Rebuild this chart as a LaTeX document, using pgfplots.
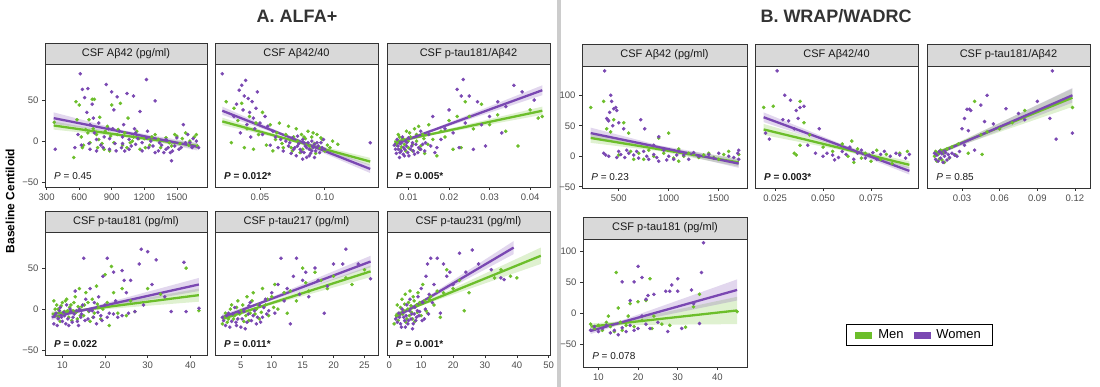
\documentclass[border=0pt]{standalone}
\usepackage{fontspec}
\setmainfont{Liberation Sans}
\usepackage{pgfplots}
\pgfplotsset{compat=1.18}
\definecolor{men}{HTML}{6CBE2B}
\definecolor{women}{HTML}{7A48B2}
\definecolor{stripgray}{HTML}{D9D9D9}
\definecolor{framegray}{HTML}{333333}
\definecolor{ticktext}{HTML}{4D4D4D}
\definecolor{sepgray}{HTML}{CCCCCC}
\tikzset{pval/.style={anchor=base west, font=\fontsize{10}{12}\selectfont, text=black!90}}
\pgfplotsset{
 panel/.style={scale only axis, axis line style={draw=framegray, line width=0.75pt},
   tick align=outside, xtick pos=bottom, ytick pos=left, major tick length=3pt,
   tick style={draw=framegray, line width=0.6pt},
   ticklabel style={font=\fontsize{9.5}{11}\selectfont, text=ticktext},
   scaled x ticks=false, scaled y ticks=false},
 pts/.style={only marks, mark=*, mark size=1.6pt},
 band/.style={draw=none, fill opacity=0.22},
 fit/.style={line width=2.3pt},
 yA/.style={ymin=-56, ymax=94, ytick={-50,0,50}, yticklabels={−50,0,50}},
 yAin/.style={ymin=-56, ymax=94, ytick=\empty},
 yB/.style={ymin=-52, ymax=148, ytick={-50,0,50,100}, yticklabels={−50,0,50,100}},
 yBin/.style={ymin=-52, ymax=148, ytick=\empty},
}
\begin{document}
\begin{tikzpicture}
\path[use as bounding box] (0pt,0pt) rectangle (1100pt,-387pt);
\fill[sepgray] (557pt,0pt) rectangle (561pt,-387pt);

% ---------------- A1 ----------------
\begin{axis}[panel, at={(45pt,-187pt)}, anchor=south west, width=162pt, height=123pt,
  xmin=285, xmax=1778, yA, xtick={300,600,900,1200,1500}, xticklabels={300,600,900,1200,1500}]
\addplot[pts, men] coordinates {(370,23)(550,-20)(570,48)(580,26)(600,44)(620,5)(640,-5)(660,14)(690,26)(700,-2)(720,51)(740,51)(760,8)(770,-8)(790,29)(810,-3)(840,12)(860,18)(880,-12)(900,44)(920,-2)(950,8)(980,46)(1000,-5)(1020,10)(1050,28)(1070,-2)(1100,5)(1130,12)(1160,-10)(1200,3)(1250,-5)(1300,8)(1350,-8)(1400,4)(1450,-6)(1500,6)(1530,-3)(1580,10)(1620,0)(1660,5)(1690,-6)
 (630,-8)(680,10)(730,15)(780,2)(830,-10)(890,6)(960,14)(1040,-8)(1090,0)(1150,3)(1210,-8)(1270,5)(1330,2)(1430,-2)(1480,8)(1550,3)(1610,-5)(1680,8)};
\addplot[pts, women] coordinates {(380,-10)(560,-8)(590,8)(610,82)(630,63)(650,53)(670,35)(680,64)(700,20)(720,45)(730,28)(740,10)(760,-12)(780,22)(800,-5)(830,5)(850,69)(870,15)(880,-10)(900,60)(920,38)(930,-3)(950,54)(970,12)(990,-8)(1000,5)(1020,-12)(1040,58)(1060,2)(1080,-6)(1100,55)(1120,10)(1140,3)(1160,36)(1180,-2)(1220,75)(1240,-8)(1260,0)(1300,49)(1300,-14)(1330,-12)(1360,-5)(1380,-14)(1400,2)(1420,-8)(1440,-14)(1450,-24)(1480,-6)(1500,4)(1520,-10)(1560,20)(1600,8)(1620,-2)(1650,3)(1680,0)(1700,-8)
 (620,-5)(700,-10)(760,2)(820,-8)(880,3)(940,-12)(1000,-3)(1060,-10)(1120,-4)(1180,-12)(1220,4)(1280,-6)(1340,-2)(1400,-10)(1460,-12)(1540,-8)(1580,-2)(1640,-8)(910,15)(1010,20)(1110,15)(1230,12)(690,-3)};
\addplot[band, fill=men] coordinates {(365,24)(1000,8.8)(1690,-2.5)(1690,-9.5)(1000,5.2)(365,14)};
\addplot[band, fill=women] coordinates {(365,35)(1000,13.2)(1690,-2.5)(1690,-11.5)(1000,9.2)(365,21)};
\addplot[fit, men] coordinates {(365,19)(1690,-6)};
\addplot[fit, women] coordinates {(365,28)(1690,-7)};
\node[pval] at (rel axis cs:0.035,0.06) {\textit{P} = 0.45};
\end{axis}

% ---------------- A2 ----------------
\begin{axis}[panel, at={(215pt,-187pt)}, anchor=south west, width=163pt, height=123pt,
  xmin=0.0154, xmax=0.141, yAin, xtick={0.05,0.10}, xticklabels={0.05,0.10}]
\addplot[pts, men] coordinates {(0.024,48)(0.028,-2)(0.030,40)(0.033,25)(0.036,46)(0.038,-8)(0.040,15)(0.042,30)(0.045,-10)(0.047,22)(0.049,8)(0.052,35)(0.055,-5)(0.058,20)(0.060,-12)(0.063,10)(0.065,22)(0.067,-3)(0.070,8)(0.072,18)(0.074,-8)(0.076,5)(0.078,15)(0.080,-2)(0.082,8)(0.083,-10)(0.085,3)(0.087,12)(0.088,-6)(0.090,5)(0.092,-3)(0.094,8)(0.096,-8)(0.098,2)(0.102,-5)(0.106,0)(0.110,-4)
 (0.075,-12)(0.079,0)(0.081,-14)(0.084,5)(0.086,-4)(0.089,-10)(0.091,10)(0.093,-15)(0.097,4)(0.100,-12)(0.104,-8)(0.068,-8)(0.062,2)};
\addplot[pts, women] coordinates {(0.021,82)(0.030,30)(0.032,45)(0.034,62)(0.035,10)(0.036,68)(0.037,38)(0.038,55)(0.039,74)(0.040,20)(0.041,52)(0.042,35)(0.043,5)(0.044,48)(0.045,28)(0.046,15)(0.047,40)(0.048,60)(0.050,22)(0.052,8)(0.054,30)(0.056,18)(0.058,-5)(0.060,12)(0.062,5)(0.064,-8)(0.066,2)(0.068,-12)(0.070,0)(0.072,-6)(0.074,-15)(0.075,4)(0.077,-8)(0.078,-18)(0.080,-3)(0.081,-10)(0.083,2)(0.084,-14)(0.085,-6)(0.086,-20)(0.087,-2)(0.088,-10)(0.089,-15)(0.090,0)(0.091,-8)(0.092,-4)(0.093,-12)(0.095,-6)(0.097,-2)(0.100,-10)(0.135,-2)
 (0.073,-2)(0.076,-10)(0.079,-6)(0.082,-13)(0.084,-2)(0.086,-8)(0.088,-18)(0.090,-12)(0.092,-20)(0.094,-2)(0.096,-14)(0.098,-8)(0.079,6)(0.083,-22)(0.099,2)};
\addplot[band, fill=men] coordinates {(0.021,28.5)(0.07,4.4)(0.135,-20.5)(0.135,-29.5)(0.07,1.4)(0.021,19.5)};
\addplot[band, fill=women] coordinates {(0.021,42)(0.07,8)(0.135,-29)(0.135,-39)(0.07,5)(0.021,32)};
\addplot[fit, men] coordinates {(0.021,24)(0.135,-25)};
\addplot[fit, women] coordinates {(0.021,37)(0.135,-34)};
\node[pval] at (rel axis cs:0.035,0.06) {\bfseries\textit{P} = 0.012*};
\end{axis}

% ---------------- A3 ----------------
\begin{axis}[panel, at={(387pt,-187pt)}, anchor=south west, width=163pt, height=123pt,
  xmin=0.0047, xmax=0.0449, yAin, xtick={0.01,0.02,0.03,0.04}, xticklabels={0.01,0.02,0.03,0.04}]
\addplot[pts, men] coordinates {(0.007,-5)(0.0075,8)(0.008,-10)(0.0085,3)(0.009,-4)(0.0095,12)(0.010,-8)(0.0105,5)(0.011,-12)(0.0115,15)(0.012,0)(0.0125,18)(0.013,-6)(0.0135,8)(0.014,-15)(0.015,20)(0.016,2)(0.017,-18)(0.018,12)(0.019,5)(0.020,25)(0.021,-10)(0.022,30)(0.023,-8)(0.024,48)(0.025,30)(0.026,15)(0.028,45)(0.030,20)(0.032,32)(0.034,12)(0.037,-6)(0.040,38)(0.042,28)(0.043,30)
 (0.0072,-2)(0.0078,5)(0.0083,-7)(0.0088,2)(0.0093,-12)(0.0099,0)(0.0103,10)(0.011,-4)(0.012,8)(0.0128,-10)(0.0138,3)(0.0148,-4)};
\addplot[pts, women] coordinates {(0.0065,-5)(0.007,-15)(0.0072,2)(0.0075,-10)(0.0078,-20)(0.008,-3)(0.0082,-12)(0.0085,5)(0.0088,-8)(0.009,-18)(0.0092,0)(0.0095,-6)(0.0098,-14)(0.010,4)(0.0105,-10)(0.011,-2)(0.0115,-16)(0.012,6)(0.0125,-8)(0.013,12)(0.0135,-4)(0.014,-12)(0.015,8)(0.016,30)(0.017,-8)(0.018,2)(0.019,15)(0.020,38)(0.021,10)(0.022,63)(0.0225,-8)(0.023,55)(0.0235,75)(0.024,22)(0.025,55)(0.026,-10)(0.027,48)(0.028,20)(0.029,-6)(0.030,30)(0.032,48)(0.033,10)(0.034,42)(0.036,68)(0.038,60)(0.041,50)
 (0.0068,-10)(0.0074,-6)(0.0079,-14)(0.0083,-2)(0.0087,-16)(0.0091,-10)(0.0096,-2)(0.0101,-18)(0.0108,-6)(0.0112,-12)(0.0118,-4)(0.0123,-14)(0.013,-10)(0.0142,-2)(0.0155,-6)(0.0165,-14)};
\addplot[band, fill=men] coordinates {(0.0065,1.5)(0.016,10.4)(0.043,42)(0.043,32)(0.016,7.4)(0.0065,-3.5)};
\addplot[band, fill=women] coordinates {(0.0065,-1.5)(0.016,14.7)(0.043,68)(0.043,56)(0.016,11.7)(0.0065,-6.5)};
\addplot[fit, men] coordinates {(0.0065,-1)(0.043,37)};
\addplot[fit, women] coordinates {(0.0065,-4)(0.043,62)};
\node[pval] at (rel axis cs:0.035,0.06) {\bfseries\textit{P} = 0.005*};
\end{axis}

% ---------------- A4 ----------------
\begin{axis}[panel, at={(45pt,-355pt)}, anchor=south west, width=162pt, height=123pt,
  xmin=5.93, xmax=43.9, yA, xtick={10,20,30,40}, xticklabels={10,20,30,40}]
\addplot[pts, men] coordinates {(8,10)(8.5,-8)(9,0)(9.5,-15)(10,8)(10.5,-3)(11,12)(11.5,-10)(12,5)(12.5,-2)(13,15)(13.5,-12)(14,25)(14.5,3)(15,-8)(15.5,20)(16,8)(16.5,-15)(17,12)(17.5,-5)(18,28)(18.5,2)(19,-12)(20,42)(20.5,8)(21,-20)(21.5,52)(22,20)(23,-5)(24,25)(25,-8)(26,10)(27,-3)(30,25)(33,18)(39,50)(42,-2)
 (8.3,0)(8.7,5)(9.2,-10)(9.7,4)(10.2,-5)(10.7,10)(11.2,-2)(11.7,2)(12.2,-14)(12.7,8)(13.2,-4)(13.7,3)(14.2,-8)(15.2,5)(16.2,-3)(17.2,-10)(18.2,6)(19.5,0)};
\addplot[pts, women] coordinates {(8,-18)(8.5,-5)(9,-12)(9.5,2)(10,-15)(10.5,-8)(11,5)(11.5,-20)(12,-3)(12.5,-10)(13,22)(13.5,-15)(14,0)(14.5,-6)(15,62)(15.5,12)(16,-12)(16.5,25)(17,-2)(17.5,8)(18,-18)(18.5,15)(19,-8)(19.5,40)(20,5)(20.5,62)(21,-5)(22,45)(22.5,10)(23,-10)(24,47)(24.5,35)(25,20)(25.5,-5)(26,35)(27,-3)(28,55)(28.5,73)(29,5)(30,70)(31,30)(32,60)(34,15)(35.5,-3)(38.5,57)(39,-3)(42,1)
 (8.2,-8)(8.8,-20)(9.3,-2)(9.8,-10)(10.3,-4)(10.8,-18)(11.3,-12)(11.8,0)(12.3,-16)(12.8,-6)(13.3,-2)(13.8,-20)(14.3,-10)(14.8,5)(15.3,-14)(16.3,-2)(17.3,-10)(18.3,-4)(19.3,-14)(20.5,-10)(22,-6)(24,-8)};
\addplot[band, fill=men] coordinates {(7.5,-3)(16,1.2)(42,25)(42,9)(16,-1.8)(7.5,-9)};
\addplot[band, fill=women] coordinates {(7.5,-6.5)(16,1.4)(42,38)(42,22)(16,-1.6)(7.5,-13.5)};
\addplot[fit, men] coordinates {(7.5,-6)(42,17)};
\addplot[fit, women] coordinates {(7.5,-10)(42,30)};
\node[pval] at (rel axis cs:0.035,0.06) {\bfseries\textit{P} = 0.022};
\end{axis}

% ---------------- A5 ----------------
\begin{axis}[panel, at={(215pt,-355pt)}, anchor=south west, width=163pt, height=123pt,
  xmin=0.81, xmax=27.2, yAin, xtick={5,10,15,20,25}, xticklabels={5,10,15,20,25}]
\addplot[pts, men] coordinates {(2,-18)(2.5,-5)(3,-12)(3.5,5)(4,-8)(4.5,10)(5,-2)(5.5,-15)(6,15)(6.5,-5)(7,20)(7.5,0)(8,-12)(8.5,25)(9,5)(9.5,-8)(10,15)(10.5,30)(11,0)(12,20)(12.5,-5)(13,22)(14,10)(15,50)(15.5,32)(16,22)(17,45)(18,35)(19,25)(20,40)(22,38)(23,30)(25,48)
 (2.3,-10)(2.8,-16)(3.3,0)(3.8,-12)(4.3,2)(4.8,-6)(5.3,5)(5.8,-8)(6.3,-14)(6.8,10)(7.3,-6)(7.8,5)(8.3,-4)(9.3,12)(10.3,2)};
\addplot[pts, women] coordinates {(2,-10)(2.5,-20)(3,-5)(3.5,-15)(4,2)(4.5,-12)(5,-22)(5.5,-3)(6,-16)(6.5,8)(7,-8)(7.5,-18)(8,5)(8.5,-10)(9,12)(9.5,-2)(10,20)(10.5,-5)(11,30)(11.5,62)(12,10)(12.5,25)(13,-18)(13.5,40)(14,62)(14.5,18)(15,35)(15.5,45)(16,15)(17,50)(17.5,35)(18.5,-5)(19,28)(20,55)(21.5,55)(22,73)(24,55)(26,37)
 (2.2,-14)(2.7,-8)(3.2,-22)(3.7,-6)(4.2,-16)(4.7,-4)(5.2,-12)(5.7,-24)(6.2,-6)(6.7,-14)(7.2,-2)(7.7,-10)(8.2,-16)(8.7,2)(9.2,-6)(6.3,4)(4.3,-20)};
\addplot[band, fill=men] coordinates {(2,-9)(8,4)(26,53)(26,39)(8,1)(2,-15)};
\addplot[band, fill=women] coordinates {(2,-6.5)(8,8.5)(26,65)(26,51)(8,5.5)(2,-13.5)};
\addplot[fit, men] coordinates {(2,-12)(26,46)};
\addplot[fit, women] coordinates {(2,-10)(26,58)};
\node[pval] at (rel axis cs:0.035,0.06) {\bfseries\textit{P} = 0.011*};
\end{axis}

% ---------------- A6 ----------------
\begin{axis}[panel, at={(387pt,-355pt)}, anchor=south west, width=163pt, height=123pt,
  xmin=-0.73, xmax=50.4, yAin, xtick={0,10,20,30,40,50}, xticklabels={0,10,20,30,40,50}]
\addplot[pts, men] coordinates {(1.5,-18)(2.5,5)(3,-8)(4,12)(4.5,-2)(5,18)(5.5,-12)(6,8)(6.5,22)(7,-4)(7.5,15)(8,-15)(8.5,5)(9,20)(10,-8)(10.5,30)(11,10)(12,-5)(13,15)(14,5)(15,22)(16,-10)(17,20)(18,48)(20,25)(22,35)(23.5,-2)(25,20)(33,38)(35,48)(38,40)(40,38)
 (2.2,-8)(2.8,-14)(3.5,2)(4.2,-6)(4.8,6)(5.2,-16)(5.8,0)(6.3,-8)(6.8,4)(7.3,-12)(7.8,10)(8.8,-4)(9.5,8)(11.5,-2)(12.5,12)};
\addplot[pts, women] coordinates {(2,-12)(3,-5)(3.5,-18)(4,0)(4.5,-10)(5,-22)(5.5,5)(6,-14)(6.5,12)(7,-6)(7.5,-18)(8,2)(8.5,-10)(9,15)(9.5,-3)(10,25)(10.5,8)(11,-12)(11.5,40)(12,55)(12.5,18)(13,62)(14,30)(15,62)(16,-5)(17,55)(18,40)(19,45)(20,30)(22,68)(24,45)(26,72)(28,55)(32,48)(35,38)(36,36)
 (2.5,-16)(3.2,-10)(3.8,-22)(4.3,-4)(4.8,-14)(5.3,-8)(5.8,-18)(6.3,-2)(6.8,-12)(7.3,-24)(7.8,-6)(8.3,-14)(8.8,-2)(9.3,-8)(10.3,-14)(11.3,0)(12.3,-6)(13.5,8)};
\addplot[band, fill=men] coordinates {(2,-4)(10,7.2)(47.5,75)(47.5,55)(10,4.2)(2,-10)};
\addplot[band, fill=women] coordinates {(2,-6.5)(9,7.6)(39,83)(39,67)(9,4.6)(2,-13.5)};
\addplot[fit, men] coordinates {(2,-7)(47.5,65)};
\addplot[fit, women] coordinates {(2,-10)(39,75)};
\node[pval] at (rel axis cs:0.035,0.06) {\bfseries\textit{P} = 0.001*};
\end{axis}

% ---------------- B1 ----------------
\begin{axis}[panel, at={(582pt,-188pt)}, anchor=south west, width=165pt, height=122pt,
  xmin=133, xmax=1783, yB, xtick={500,1000,1500}, xticklabels={500,1000,1500}]
\addplot[pts, men] coordinates {(220,80)(350,90)(380,45)(420,40)(450,60)(550,55)(600,38)(500,2)(620,8)(700,5)(800,10)(850,0)(900,30)(1000,38)(950,5)(1050,-3)(1100,12)(1200,5)(1300,-2)(1400,5)(1500,-5)(1600,8)(1700,3)(1100,-8)(650,-5)(750,-5)(1150,0)(1250,3)(1350,2)(1450,-2)(1550,3)};
\addplot[pts, women] coordinates {(360,140)(420,100)(430,90)(380,62)(390,60)(400,58)(450,78)(470,80)(480,75)(410,72)(440,50)(500,55)(550,45)(720,60)(760,45)(350,5)(370,2)(400,0)(500,8)(520,3)(560,-2)(600,5)(650,2)(700,-3)(750,8)(800,-5)(850,3)(900,-8)(950,10)(1000,0)(1050,-5)(1100,8)(1150,2)(1200,-5)(1250,6)(1300,0)(1400,3)(1450,-3)(1500,5)(1600,0)(1650,-2)(1700,10)(1690,5)(1700,-5)(900,32)(850,18)(480,-2)(580,10)(680,8)(780,0)(880,-2)(980,-6)(1080,2)};
\addplot[band, fill=men] coordinates {(220,38)(900,14.6)(1700,-3)(1700,-17)(900,8.6)(220,22)};
\addplot[band, fill=women] coordinates {(220,47)(900,18)(1700,-5)(1700,-19)(900,12)(220,29)};
\addplot[fit, men] coordinates {(220,30)(1700,-10)};
\addplot[fit, women] coordinates {(220,38)(1700,-12)};
\node[pval] at (rel axis cs:0.035,0.06) {\textit{P} = 0.23};
\end{axis}

% ---------------- B2 ----------------
\begin{axis}[panel, at={(755pt,-188pt)}, anchor=south west, width=163pt, height=122pt,
  xmin=0.0145, xmax=0.0995, yBin, xtick={0.025,0.050,0.075}, xticklabels={0.025,0.050,0.075}]
\addplot[pts, men] coordinates {(0.019,80)(0.024,82)(0.038,90)(0.035,5)(0.036,2)(0.038,18)(0.040,55)(0.043,35)(0.050,15)(0.055,8)(0.060,20)(0.063,0)(0.066,-10)(0.068,12)(0.070,-3)(0.072,5)(0.075,-8)(0.078,10)(0.080,-5)(0.083,3)(0.086,-12)(0.090,5)(0.094,8)(0.065,25)};
\addplot[pts, women] coordinates {(0.026,140)(0.030,100)(0.033,92)(0.029,60)(0.032,58)(0.036,75)(0.038,80)(0.040,82)(0.037,62)(0.035,45)(0.042,18)(0.020,38)(0.022,28)(0.048,45)(0.050,0)(0.052,5)(0.055,2)(0.058,-2)(0.060,8)(0.062,3)(0.064,15)(0.066,-5)(0.068,5)(0.070,10)(0.072,-3)(0.074,2)(0.076,6)(0.078,-5)(0.080,3)(0.082,8)(0.085,0)(0.088,5)(0.090,2)(0.093,-3)(0.095,3)(0.056,-6)(0.046,5)};
\addplot[band, fill=men] coordinates {(0.019,53)(0.06,15.7)(0.095,-8)(0.095,-20)(0.06,9.7)(0.019,35)};
\addplot[band, fill=women] coordinates {(0.019,72)(0.06,19.5)(0.095,-18)(0.095,-30)(0.06,13.5)(0.019,56)};
\addplot[fit, men] coordinates {(0.019,44)(0.095,-14)};
\addplot[fit, women] coordinates {(0.019,64)(0.095,-24)};
\node[pval] at (rel axis cs:0.035,0.06) {\bfseries\textit{P} = 0.003*};
\end{axis}

% ---------------- B3 ----------------
\begin{axis}[panel, at={(927pt,-188pt)}, anchor=south west, width=163pt, height=122pt,
  xmin=0.0021, xmax=0.132, yBin, xtick={0.03,0.06,0.09,0.12}, xticklabels={0.03,0.06,0.09,0.12}]
\addplot[pts, men] coordinates {(0.008,0)(0.009,8)(0.010,-8)(0.011,3)(0.012,-4)(0.013,10)(0.014,-6)(0.015,5)(0.016,-10)(0.018,12)(0.020,-3)(0.022,15)(0.025,2)(0.027,20)(0.035,5)(0.040,90)(0.046,3)(0.045,35)(0.050,40)(0.060,45)(0.070,55)(0.080,75)(0.118,80)};
\addplot[pts, women] coordinates {(0.008,5)(0.009,-5)(0.010,2)(0.011,-8)(0.012,8)(0.013,-3)(0.014,4)(0.015,-10)(0.016,0)(0.017,6)(0.018,-6)(0.019,3)(0.020,-2)(0.022,5)(0.024,2)(0.026,0)(0.028,8)(0.030,45)(0.032,62)(0.034,77)(0.035,42)(0.036,77)(0.037,75)(0.045,84)(0.050,100)(0.048,57)(0.055,53)(0.065,78)(0.075,70)(0.080,60)(0.090,90)(0.100,62)(0.102,140)(0.105,28)(0.118,38)(0.040,10)(0.032,18)};
\addplot[band, fill=men] coordinates {(0.008,7)(0.025,21)(0.118,111)(0.118,81)(0.025,15)(0.008,1)};
\addplot[band, fill=women] coordinates {(0.008,5)(0.025,20)(0.118,112)(0.118,88)(0.025,14)(0.008,-1)};
\addplot[fit, men] coordinates {(0.008,4)(0.118,96)};
\addplot[fit, women] coordinates {(0.008,2)(0.118,100)};
\node[pval] at (rel axis cs:0.035,0.06) {\textit{P} = 0.85};
\end{axis}

% ---------------- B4 ----------------
\begin{axis}[panel, at={(583pt,-367pt)}, anchor=south west, width=164pt, height=128pt,
  xmin=6.1, xmax=47.5, ymin=-87, ymax=119, ytick={-50,0,50,100}, yticklabels={−50,0,50,100},
  xtick={10,20,30,40}, xticklabels={10,20,30,40},
  legend style={at={(2.05,0.25)}, anchor=center, legend columns=2, draw=black, line width=0.8pt,
    font=\fontsize{13}{15}\selectfont, inner xsep=9pt, inner ysep=3.5pt,
    /tikz/every odd column/.append style={column sep=4pt},
    /tikz/every even column/.append style={column sep=8pt}}]
\addlegendimage{legend image code/.code={\fill[men] (0pt,-3pt) rectangle (16pt,3pt);}}
\addlegendimage{legend image code/.code={\fill[women] (0pt,-3pt) rectangle (16pt,3pt);}}
\addplot[pts, men] coordinates {(8,-18)(9,-25)(10,-20)(11,-28)(12,-15)(12.5,-5)(13,-22)(14,-30)(14.5,65)(15,8)(15.5,-15)(16,-28)(17,-20)(17.5,-5)(18,15)(19,-22)(20,18)(21,-12)(22,20)(23,55)(23.5,-25)(24,-5)(26,-18)(28,-20)(32,-23)(34,10)(35.5,30)(45,2)};
\addplot[pts, women] coordinates {(8,-28)(9,-22)(10,-30)(11,-25)(12,-20)(13,-32)(14,-28)(15,-35)(16,-24)(16,50)(17,-30)(18,-20)(18,20)(19,-28)(19,50)(20,75)(20,-25)(21,57)(21,-5)(22,22)(22,-18)(22.5,28)(23,-25)(24,30)(25,-15)(27,35)(27.5,-30)(28,35)(28.5,45)(30,55)(30,35)(31,-25)(33.5,37)(35.5,-17)(36,65)(36.5,113)(34,15)};
\addplot[band, fill=men] coordinates {(8,-17)(16,-13.4)(45,26)(45,-18)(16,-19.4)(8,-27)};
\addplot[band, fill=women] coordinates {(8,-24)(16,-11.7)(45,54)(45,20)(16,-17.7)(8,-34)};
\addplot[fit, men] coordinates {(8,-22)(45,4)};
\addplot[fit, women] coordinates {(8,-29)(45,37)};
\node[pval] at (rel axis cs:0.035,0.06) {\textit{P} = 0.078};
\legend{Men,Women}
\end{axis}

% ---------------- strips ----------------
\tikzset{strip/.style={draw=framegray, fill=stripgray, line width=0.75pt},
  striptext/.style={font=\fontsize{11}{13}\selectfont, text=black!90}}
\draw[strip] (45pt,-43pt) rectangle (207pt,-64pt);
\node[striptext] at (126pt,-53.5pt) {CSF Aβ42 (pg/ml)};
\draw[strip] (215pt,-43pt) rectangle (378pt,-64pt);
\node[striptext] at (296.5pt,-53.5pt) {CSF Aβ42/40};
\draw[strip] (387pt,-43pt) rectangle (550pt,-64pt);
\node[striptext] at (468.5pt,-53.5pt) {CSF p-tau181/Aβ42};
\draw[strip] (45pt,-211pt) rectangle (207pt,-232pt);
\node[striptext] at (126pt,-221.5pt) {CSF p-tau181 (pg/ml)};
\draw[strip] (215pt,-211pt) rectangle (378pt,-232pt);
\node[striptext] at (296.5pt,-221.5pt) {CSF p-tau217 (pg/ml)};
\draw[strip] (387pt,-211pt) rectangle (550pt,-232pt);
\node[striptext] at (468.5pt,-221.5pt) {CSF p-tau231 (pg/ml)};
\draw[strip] (582pt,-44pt) rectangle (747pt,-66pt);
\node[striptext] at (664.5pt,-55pt) {CSF Aβ42 (pg/ml)};
\draw[strip] (755pt,-44pt) rectangle (918pt,-66pt);
\node[striptext] at (836.5pt,-55pt) {CSF Aβ42/40};
\draw[strip] (927pt,-44pt) rectangle (1090pt,-66pt);
\node[striptext] at (1008.5pt,-55pt) {CSF p-tau181/Aβ42};
\draw[strip] (583pt,-217pt) rectangle (747pt,-239pt);
\node[striptext] at (665pt,-228pt) {CSF p-tau181 (pg/ml)};

% ---------------- titles ----------------
\node[font=\fontsize{18}{21}\selectfont\bfseries, text=black!80] at (297pt,-16pt) {A. ALFA+};
\node[font=\fontsize{18}{21}\selectfont\bfseries, text=black!80] at (836pt,-16pt) {B. WRAP/WADRC};
\node[font=\fontsize{12}{14}\selectfont\bfseries, rotate=90] at (10pt,-201pt) {Baseline Centiloid};
\end{tikzpicture}
\end{document}
